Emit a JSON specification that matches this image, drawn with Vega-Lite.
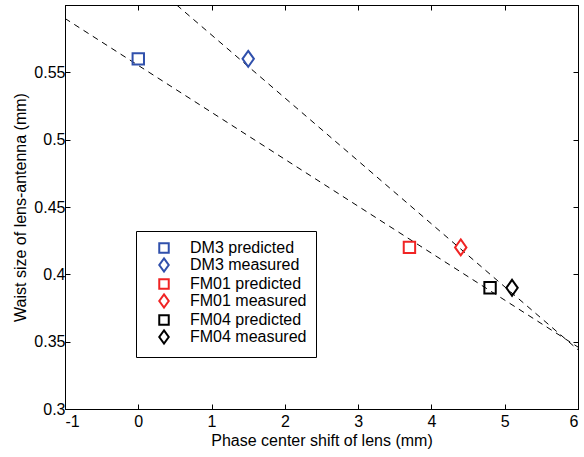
{
  "$schema": "https://vega.github.io/schema/vega-lite/v6.json",
  "width": 513,
  "height": 404,
  "autosize": "none",
  "padding": {"left": 65, "top": 5, "right": 6, "bottom": 48},
  "background": "white",
  "config": {
    "font": "Liberation Sans",
    "view": {"stroke": "black", "strokeWidth": 1},
    "axis": {
      "grid": false,
      "domainColor": "black",
      "domainWidth": 1,
      "tickColor": "black",
      "tickSize": -5,
      "labelColor": "black",
      "labelFontSize": 16,
      "labelFont": "Liberation Sans",
      "titleFont": "Liberation Sans",
      "titleFontSize": 16,
      "titleFontWeight": "normal",
      "titleColor": "black"
    },
    "legend": {
      "labelFont": "Liberation Sans",
      "labelFontSize": 16,
      "labelColor": "black"
    }
  },
  "datasets": {
    "pts": [
      {"series": "DM3 predicted", "x": 0, "y": 0.56},
      {"series": "DM3 measured", "x": 1.5, "y": 0.56},
      {"series": "FM01 predicted", "x": 3.7, "y": 0.42},
      {"series": "FM01 measured", "x": 4.4, "y": 0.42},
      {"series": "FM04 predicted", "x": 4.8, "y": 0.39},
      {"series": "FM04 measured", "x": 5.1, "y": 0.39}
    ],
    "lines": [
      {"line": "lower", "x": -1, "y": 0.590},
      {"line": "lower", "x": 6, "y": 0.346},
      {"line": "upper", "x": 0.524, "y": 0.6},
      {"line": "upper", "x": 6, "y": 0.344}
    ]
  },
  "layer": [
    {
      "data": {"name": "lines"},
      "mark": {"type": "line", "color": "black", "strokeWidth": 1, "strokeDash": [6, 5], "clip": true},
      "encoding": {
        "x": {"field": "x", "type": "quantitative", "scale": {"domain": [-1, 6], "nice": false, "zero": false},
          "axis": {"orient": "bottom", "values": [-1, 0, 1, 2, 3, 4, 5, 6], "labelExpr": "'' + datum.value", "title": "Phase center shift of lens (mm)", "labelPadding": 9, "titlePadding": 3}},
        "y": {"field": "y", "type": "quantitative", "scale": {"domain": [0.3, 0.6], "nice": false, "zero": false},
          "axis": {"orient": "left", "values": [0.3, 0.35, 0.4, 0.45, 0.5, 0.55], "format": "~g", "title": "Waist size of lens-antenna (mm)", "labelPadding": 5, "titlePadding": 5}},
        "detail": {"field": "line"}
      }
    },
    {
      "data": {"name": "pts"},
      "mark": {"type": "point", "filled": false, "strokeWidth": 2, "size": 130, "opacity": 1},
      "encoding": {
        "x": {"field": "x", "type": "quantitative", "axis": null},
        "y": {"field": "y", "type": "quantitative", "axis": null},
        "color": {"field": "series", "type": "nominal",
          "scale": {"domain": ["DM3 predicted", "DM3 measured", "FM01 predicted", "FM01 measured", "FM04 predicted", "FM04 measured"],
                    "range": ["#3050ac", "#3050ac", "#f02424", "#f02424", "black", "black"]},
          "legend": {"title": null, "orient": "none", "legendX": 71, "legendY": 226, "strokeColor": "black", "fillColor": "white", "padding": 9, "rowPadding": -3.2, "symbolOffset": 11, "labelOffset": 18, "symbolSize": 90, "symbolStrokeWidth": 2}},
        "shape": {"field": "series", "type": "nominal",
          "scale": {"domain": ["DM3 predicted", "DM3 measured", "FM01 predicted", "FM01 measured", "FM04 predicted", "FM04 measured"],
                    "range": ["square", "M0,-1.4L1,0L0,1.4L-1,0Z", "square", "M0,-1.4L1,0L0,1.4L-1,0Z", "square", "M0,-1.4L1,0L0,1.4L-1,0Z"]}}
      }
    },
    {
      "data": {"name": "pts"},
      "mark": {"type": "point", "opacity": 0},
      "encoding": {
        "x": {"field": "x", "type": "quantitative", "axis": {"orient": "top", "values": [-1, 0, 1, 2, 3, 4, 5, 6], "labels": false, "title": null}},
        "y": {"field": "y", "type": "quantitative", "axis": {"orient": "right", "values": [0.3, 0.35, 0.4, 0.45, 0.5, 0.55], "labels": false, "title": null}}
      }
    }
  ],
  "resolve": {"axis": {"x": "independent", "y": "independent"}}
}
